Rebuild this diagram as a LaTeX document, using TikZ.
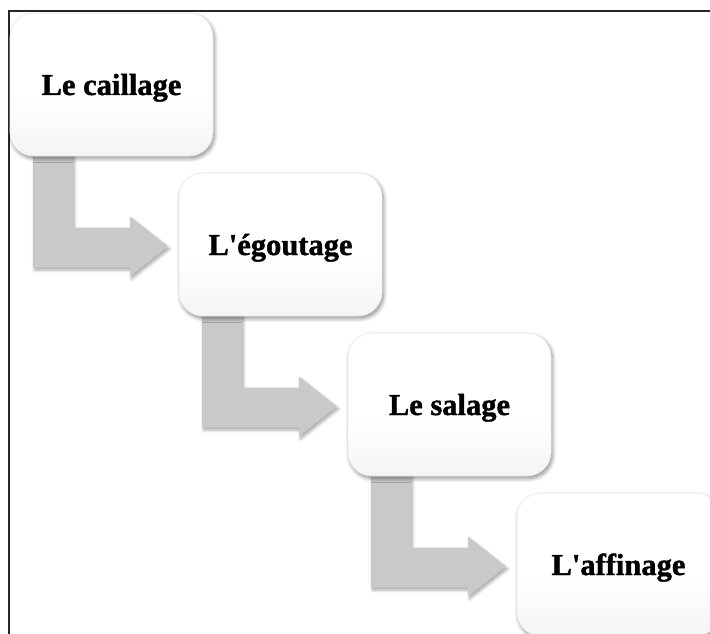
\documentclass[tikz,border=0pt]{standalone}
\usepackage{fontspec}
\setmainfont{Liberation Serif}[BoldFeatures={FakeBold=1.3}]
\usetikzlibrary{shadows.blur,calc}
\pgfdeclareverticalshading{boxshade}{100bp}{
  color(0bp)=(black!11); color(12bp)=(black!7); color(45bp)=(white); color(100bp)=(white)}
\tikzset{
  stepbox/.style={rounded corners=24pt, minimum width=203pt, minimum height=143pt,
    inner sep=0pt, shading=boxshade, draw=black!8, line width=0.6pt,
    blur shadow={shadow xshift=1.5pt, shadow yshift=-2.5pt, shadow blur steps=8, shadow blur radius=4pt, shadow opacity=45},
    font=\fontsize{30.5}{34}\selectfont\bfseries},
  steptext/.style={font=\fontsize{30.5}{34}\selectfont\bfseries, inner sep=0pt, anchor=base},
  bentarrow/.style={fill=black!21, draw=none,
    blur shadow={shadow xshift=1.5pt, shadow yshift=-2.5pt, shadow blur steps=6, shadow blur radius=3pt, shadow opacity=35}},
  frameline/.style={draw=black!85, line width=1.6pt}
}
\begin{document}
\begin{tikzpicture}[x=1pt,y=-1pt]
\useasboundingbox (0,0) rectangle (710,634);
\coordinate (ftr) at (710,11);
\coordinate (ftl) at (9,11);
\coordinate (fbl) at (9,634);
\draw[frameline] (ftr) -- (ftl) -- (fbl);
% boxes positions
\path (111.5,84.5) coordinate (p1) (280.5,244.5) coordinate (p2) (449.5,404.5) coordinate (p3) (618.5,564.5) coordinate (p4);
% arrows (drawn first, under boxes)
\foreach \i in {1,2,3}{
  \draw[bentarrow] ($(p\i)+(-78.5,60)$) -- ++(40,0) -- ++(0,83) -- ++(57,0) -- ++(0,-11)
     -- ++(38,30) -- ++(-38,30) -- ++(0,-9) -- ++(-97,0) -- cycle;
}
\node[stepbox] (a) at (p1) {};
\node[stepbox] (b) at (p2) {};
\node[stepbox] (c) at (p3) {};
\node[stepbox] (d) at (p4) {};
\node[steptext] (ta) at ($(a.center)+(0,10.5)$) {Le caillage};
\node[steptext] (tb) at ($(b.center)+(0,10.5)$) {L\textquotesingle égoutage};
\node[steptext] (tc) at ($(c.center)+(0,10.5)$) {Le salage};
\node[steptext] (td) at ($(d.center)+(0,10.5)$) {L\textquotesingle affinage};
\end{tikzpicture}
\end{document}
